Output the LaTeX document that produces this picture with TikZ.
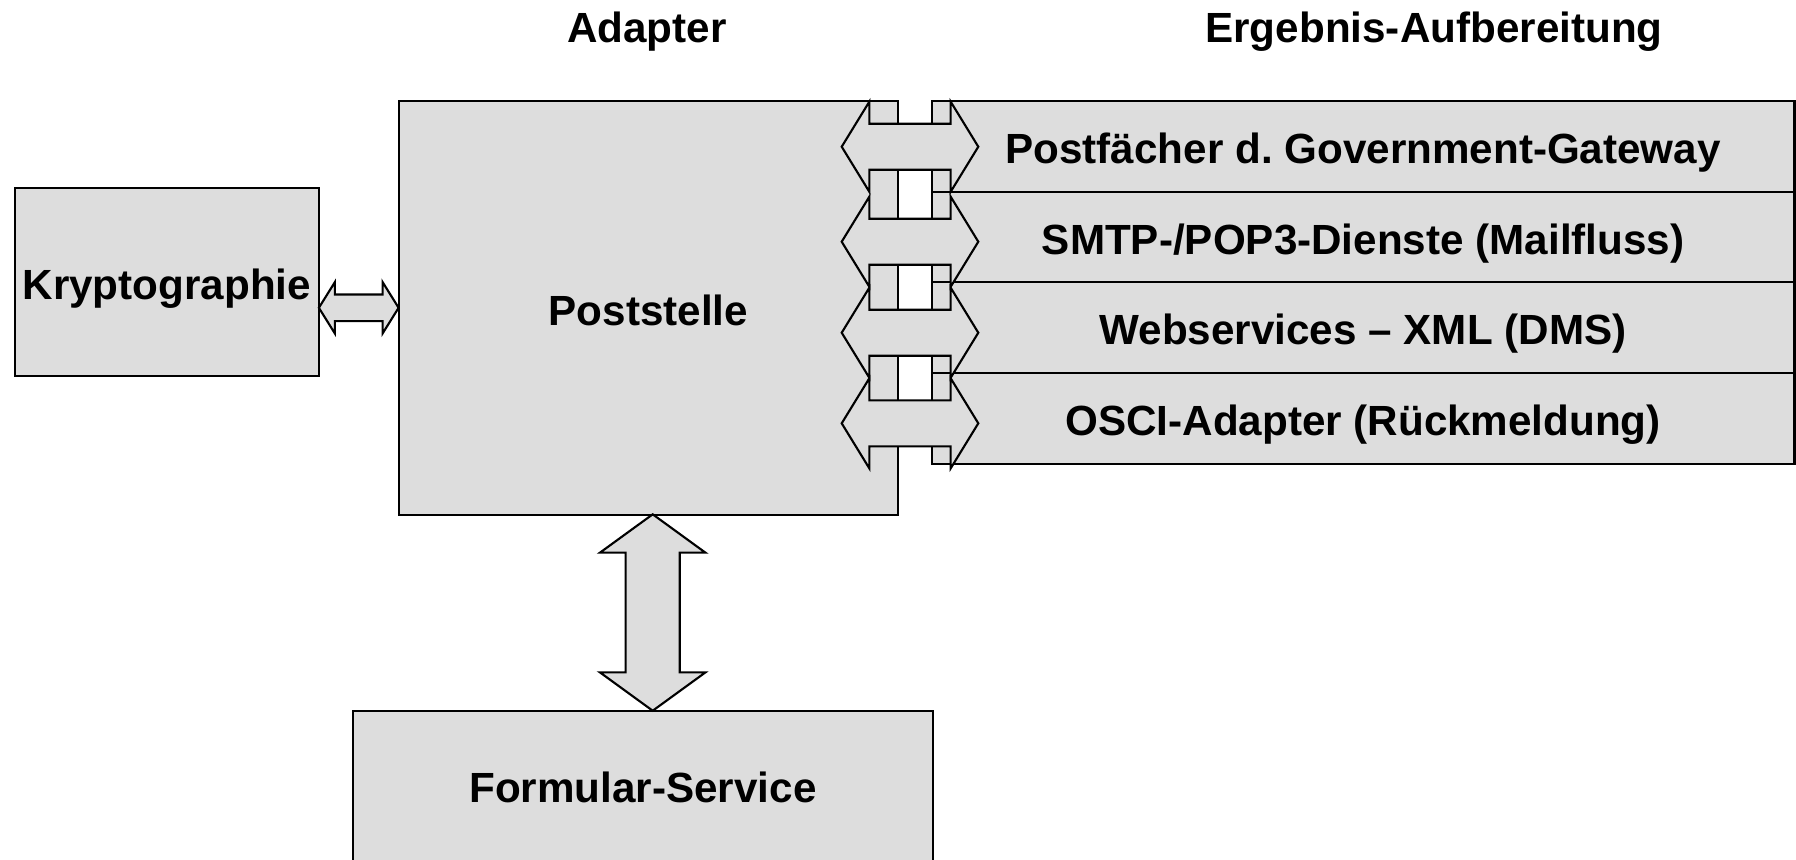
\documentclass[tikz,border=0pt]{standalone}
\usepackage{fontspec}
\setmainfont{Liberation Sans}
\usetikzlibrary{calc,positioning}
\frenchspacing

\definecolor{boxgray}{RGB}{221,221,221}

\tikzset{
  lbl/.style={font=\bfseries\fontsize{12}{14}\selectfont},
  blk/.style 2 args={draw, fill=boxgray, line width=0.6pt, inner sep=0pt, outer sep=0pt,
    anchor=north west, minimum width=#1, minimum height=#2, lbl,
    text height=1.06em, text depth=0.08em},
  barrow/.style={draw, fill=boxgray, line width=0.6pt, line join=miter},
}

% block arrow: from, to, half shaft, half head, head length
\newcommand{\blockarrow}[5]{%
  \path[barrow] (#1)
    -- ($(#1)!#5!(#2)!#4!90:(#2)$) -- ($(#1)!#5!(#2)!#3!90:(#2)$)
    -- ($(#2)!#5!(#1)!#3!-90:(#1)$) -- ($(#2)!#5!(#1)!#4!-90:(#1)$)
    -- (#2)
    -- ($(#2)!#5!(#1)!#4!90:(#1)$) -- ($(#2)!#5!(#1)!#3!90:(#1)$)
    -- ($(#1)!#5!(#2)!#3!-90:(#2)$) -- ($(#1)!#5!(#2)!#4!-90:(#2)$)
    -- cycle;
}

\begin{document}
\begin{tikzpicture}[x=0.01cm, y=-0.01cm]
  \clip (0,0) rectangle (1796,859);

  % boxes
  \node[blk={3.04cm}{1.88cm}] (krypto) at (14.7,187.7) {Kryptographie};
  \node[blk={4.994cm}{4.133cm}] (post) at (398.6,101) {Poststelle};
  \node[blk={5.79cm}{1.62cm}, text depth=0.08em+0.13cm] (formular) at (353.3,710.7) {Formular-Service};

  \node[blk={8.623cm}{0.906cm}] (r1) at (931.7,101) {Postfächer d. Government-Gateway};
  \node[blk={8.623cm}{0.906cm}, below=0pt of r1.south west, anchor=north west] (r2) {SMTP-/POP3-Dienste (Mailfluss)};
  \node[blk={8.623cm}{0.906cm}, below=0pt of r2.south west, anchor=north west] (r3) {Webservices -- XML (DMS)};
  \node[blk={8.623cm}{0.906cm}, below=0pt of r3.south west, anchor=north west] (r4) {OSCI-Adapter (Rückmeldung)};

  % titles
  \node[lbl, anchor=base] (tadapter) at (647,42) {Adapter};
  \node[lbl, anchor=base] (tergebnis) at (1434,42) {Ergebnis-Aufbereitung};

  % arrow ends
  \coordinate (k1) at (krypto.east |- post.west);
  \coordinate (k2) at (post.west);
  \coordinate (v1) at (652.7,514.3);
  \coordinate (v2) at (652.7,710.7);
  \coordinate (a1) at (841.7,146.7);  \coordinate (b1) at (978.3,146.7);
  \coordinate (a2) at (841.7,241.7);  \coordinate (b2) at (978.3,241.7);
  \coordinate (a3) at (841.7,332.7);  \coordinate (b3) at (978.3,332.7);
  \coordinate (a4) at (841.7,423.3);  \coordinate (b4) at (978.3,423.3);

  % arrows
  \blockarrow{k1}{k2}{0.133cm}{0.257cm}{0.16cm}
  \blockarrow{v1}{v2}{0.27cm}{0.527cm}{0.383cm}
  \foreach \i in {1,...,4}{
    \blockarrow{a\i}{b\i}{0.23cm}{0.45cm}{0.276cm}
  }
\end{tikzpicture}
\end{document}
